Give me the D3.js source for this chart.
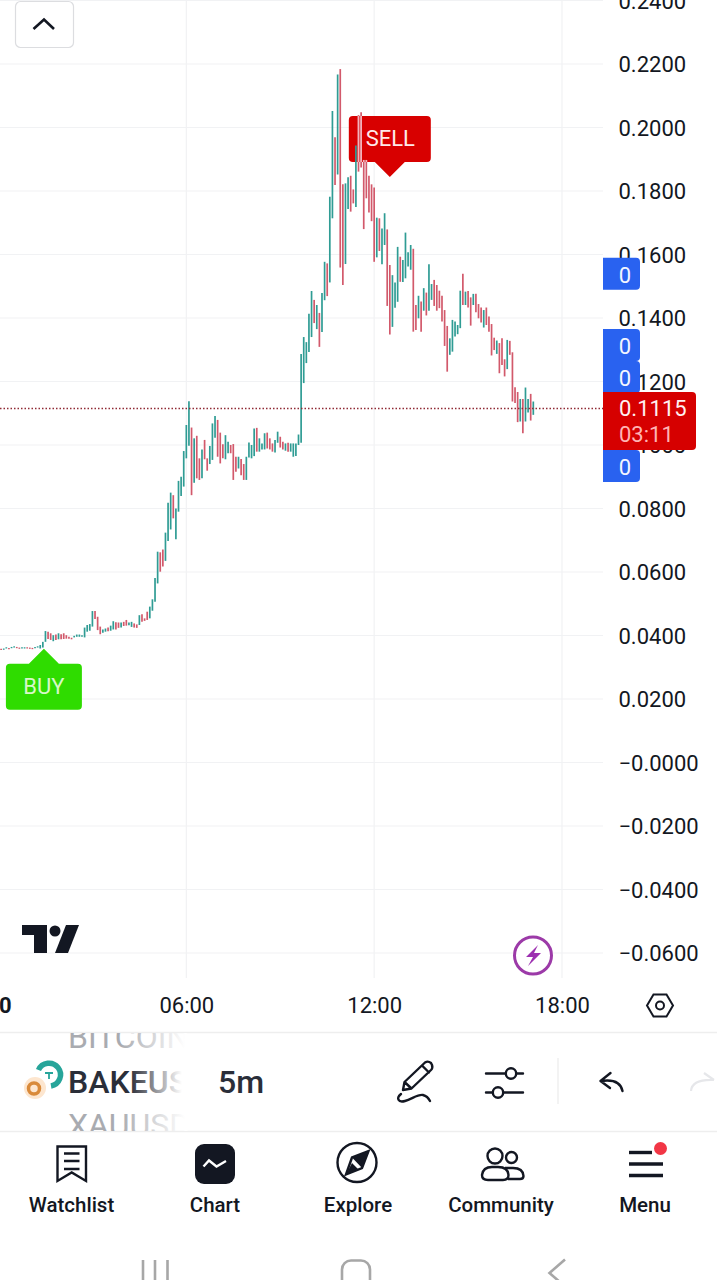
<!DOCTYPE html>
<html>
<head>
<meta charset="utf-8">
<script src="https://cdn.jsdelivr.net/npm/d3@7"></script>
<style>
  html, body { margin: 0; padding: 0; background: #fff; }
  svg { display: block; font-family: Roboto, sans-serif; }
</style>
</head>
<body>
<div id="chart"></div>
<script>
// 5 minute bars, one every barMinutes starting at 00:00
const barMinutes = 5;
const highs = [
  .0358,.0358,.0359,.0363,.0361,.0364,.0366,.0364,.0362,.0363,.0363,.0363,.0362,.0361,.0364,.0366,
  .0370,.0380,.0414,.0412,.0407,.0401,.0403,.0407,.0404,.0407,.0401,.0396,.0393,.0399,.0403,.0403,.0401,
  .0425,.0433,.0436,.0477,.0477,.0459,.0428,.0419,.0422,.0425,.0431,.0445,.0442,.0441,.0441,.0443,.0449,
  .0441,.0443,.0438,.0435,.0464,.0467,.0454,.0475,.0491,.0514,
  .0581,.0664,.0662,.0671,.0724,.0818,.0850,.0842,.0800,.0887,.0900,.0981,.1063,.1138,
  .1055,.1021,.1029,.0958,.0986,.1016,.0958,.0997,.1068,.1091,.1079,.1039,.1002,.1031,.1010,.1000,
  .1003,.0963,.0963,.0956,.0940,.0963,.1008,.1000,.1052,.1054,.1021,.1005,.1037,.1039,.1021,.1005,
  .1016,.1042,.1026,.1010,.1005,.1007,.1005,.1005,.1005,.1033,.1287,
  .1340,.1324,.1413,.1485,.1457,.1441,.1416,.1479,
  .1577,.1572,.1782,.2052,.1969,.2167,.2184,.1821,.1824,.1843,.1848,.1805,.1943,.2039,.2048,
  .1898,.1898,.1848,.1821,.1811,.1716,.1714,.1682,.1730,.1679,.1567,.1535,.1512,.1624,.1593,
  .1583,.1669,.1607,.1630,.1618,.1441,.1470,.1452,.1494,.1480,.1569,.1507,.1520,.1504,.1486,.1470,
  .1425,.1375,.1336,.1394,.1389,.1378,.1486,.1539,.1483,.1485,.1465,.1476,.1476,.1444,.1433,.1425,
  .1433,.1405,.1381,.1338,.1329,.1321,.1336,.1270,.1331,.1328,.1292,.1182,.1167,.1145,.1145,.1181,
  .1145,.1161,.1137
];
const lows = [
  .0354,.0354,.0355,.0359,.0357,.0360,.0362,.0360,.0358,.0359,.0359,.0359,.0358,.0357,.0360,.0362,
  .0359,.0362,.0380,.0389,.0386,.0382,.0386,.0388,.0388,.0389,.0390,.0390,.0388,.0394,.0396,.0396,.0396,
  .0394,.0412,.0415,.0428,.0452,.0417,.0404,.0409,.0412,.0413,.0415,.0419,.0419,.0424,.0425,.0430,.0431,
  .0432,.0427,.0425,.0424,.0433,.0443,.0446,.0449,.0454,.0478,
  .0506,.0564,.0601,.0617,.0635,.0698,.0734,.0769,.0703,.0790,.0839,.0869,.0958,.0998,
  .0842,.0881,.0895,.0890,.0895,.0955,.0919,.0940,.0953,.1023,.0963,.0942,.0958,.0955,.0974,.0974,
  .0890,.0916,.0926,.0905,.0890,.0890,.0961,.0958,.0965,.0979,.0979,.0986,.0986,.0989,.0986,.0979,
  .0976,.1007,.0992,.0986,.0982,.0979,.0979,.0963,.0965,.1000,.1007,
  .1195,.1258,.1293,.1340,.1384,.1365,.1309,.1356,
  .1456,.1469,.1512,.1714,.1819,.1852,.1559,.1504,.1570,.1743,.1735,.1761,.1750,.1861,.1874,
  .1680,.1777,.1732,.1705,.1577,.1591,.1611,.1569,.1630,.1438,.1348,.1372,.1432,.1451,.1514,
  .1513,.1525,.1562,.1552,.1357,.1362,.1399,.1357,.1423,.1408,.1423,.1457,.1438,.1423,.1431,.1389,
  .1312,.1231,.1284,.1294,.1342,.1349,.1368,.1441,.1441,.1433,.1376,.1441,.1418,.1399,.1386,.1370,
  .1378,.1357,.1282,.1299,.1287,.1226,.1252,.1216,.1239,.1284,.1137,.1132,.1072,.1074,.1037,.1074,
  .1102,.1077,.1095
];
// U = close above open, D = close below open
const directions = (
  "UDUUDUUDDUUDDDUU" +
  "UUUDDUDUDDDDDUUUU" +
  "UUUUDDDUUDUUDDUDD" +
  "UUDDUDDDUU" +
  "UUDDUUUDUUUUUU" +
  "DUDDUDDUUUDDDUUD" +
  "DDUDDUUUUDUUUDDD" +
  "UUDDUDUUUUU" +
  "UUUUDUDU" +
  "UDUUDUDDUUDDUDD" +
  "DDDDDUDUUDDUUUD" +
  "UUUUDDUDUDUUDDDD" +
  "DDUUUUUDUDDUDDDU" +
  "DDDDUDDDUDDDDUDU" +
  "UDU"
).split("");

const yTickValues = [0.24, 0.22, 0.20, 0.18, 0.16, 0.14, 0.12, 0.10, 0.08, 0.06, 0.04, 0.02, 0, -0.02, -0.04, -0.06];
const yTickLabels = ["0.2400", "0.2200", "0.2000", "0.1800", "0.1600", "0.1400", "0.1200", "0.1000", "0.0800", "0.0600", "0.0400", "0.0200", "\u22120.0000", "\u22120.0200", "\u22120.0400", "\u22120.0600"];
const xTickValues = [0, 360, 720, 1080];
const xTickLabels = ["0", "06:00", "12:00", "18:00"];
const lastPrice = 0.1115;
const countdown = "03:11";
const buySignalMinute = 87;
const buySignalPrice = 0.0358;
const sellSignalMinute = 750;
const sellSignalPrice = 0.1844;
const alertTagPrices = [0.1539, 0.1315, 0.1214, 0.0934];
const navItems = ["Watchlist", "Chart", "Explore", "Community", "Menu"];
const navCenters = [71.5, 215, 358, 501, 645];

const W = 717, H = 1280;
const paneW = 603, paneH = 978;
const upColor = "#2f9c94", downColor = "#d2596b", gridColor = "#f1f2f4", ink = "#131722";

const x = d3.scaleLinear().domain([0, 1080]).range([-1.5, 562]);
const y = d3.scaleLinear().domain([-0.06, 0.22]).range([953, 64]);

const svg = d3.select("#chart").append("svg").attr("width", W).attr("height", H);

const sx = x(sellSignalMinute), sy = y(sellSignalPrice);
const bx = x(buySignalMinute), by = y(buySignalPrice);

const defs = svg.append("defs");
defs.append("clipPath").attr("id", "pane")
  .append("rect").attr("width", paneW).attr("height", paneH);
defs.append("clipPath").attr("id", "symbolRow")
  .append("rect").attr("x", 0).attr("y", 1033).attr("width", W).attr("height", 98);
defs.append("clipPath").attr("id", "sellBox")
  .append("rect").attr("x", sx - 41).attr("y", sy - 61).attr("width", 82).attr("height", 46);
const fade = defs.append("linearGradient").attr("id", "fadeMain")
  .attr("gradientUnits", "userSpaceOnUse").attr("x1", 130).attr("x2", 182).attr("y1", 0).attr("y2", 0);
fade.append("stop").attr("offset", 0).attr("stop-color", "#2a2e39");
fade.append("stop").attr("offset", 1).attr("stop-color", "#ffffff");
const fadeGrey = defs.append("linearGradient").attr("id", "fadeGrey")
  .attr("gradientUnits", "userSpaceOnUse").attr("x1", 120).attr("x2", 185).attr("y1", 0).attr("y2", 0);
fadeGrey.append("stop").attr("offset", 0).attr("stop-color", "#a9abb0");
fadeGrey.append("stop").attr("offset", 1).attr("stop-color", "#ffffff");

const pane = svg.append("g").attr("clip-path", "url(#pane)");

// grid
pane.selectAll(".hgrid").data(yTickValues).enter().append("line")
  .attr("x1", 0).attr("x2", paneW)
  .attr("y1", d => y(d)).attr("y2", d => y(d))
  .attr("stroke", gridColor).attr("stroke-width", 1.2);
pane.selectAll(".vgrid").data(xTickValues.slice(1)).enter().append("line")
  .attr("x1", d => x(d)).attr("x2", d => x(d))
  .attr("y1", 0).attr("y2", paneH)
  .attr("stroke", gridColor).attr("stroke-width", 1.2);

// sell marker sits under the bars
pane.append("path")
  .attr("d", `M${sx - 37},${sy - 61} H${sx + 37} a4,4 0 0 1 4,4 V${sy - 19} a4,4 0 0 1 -4,4 H${sx + 15} L${sx},${sy} L${sx - 15},${sy - 15} H${sx - 37} a4,4 0 0 1 -4,-4 V${sy - 57} a4,4 0 0 1 4,-4 Z`)
  .attr("fill", "#d80000");

pane.append("path")
  .attr("d", `M${bx},${by} L${bx + 15},${by + 15} H${bx + 34} a4,4 0 0 1 4,4 V${by + 57} a4,4 0 0 1 -4,4 H${bx - 34} a4,4 0 0 1 -4,-4 V${by + 19} a4,4 0 0 1 4,-4 H${bx - 15} Z`)
  .attr("fill", "#2fdc00");
pane.append("text").attr("x", bx).attr("y", by + 45).attr("text-anchor", "middle")
  .attr("font-size", 22).attr("fill", "#d8f8c8").text("BUY");

// bars
const barIndex = d3.range(highs.length);
pane.selectAll(".bar").data(barIndex).enter().append("line")
  .attr("class", "bar")
  .attr("x1", i => x(i * barMinutes))
  .attr("x2", i => x(i * barMinutes))
  .attr("y1", i => y(highs[i]))
  .attr("y2", i => y(lows[i]))
  .attr("stroke", i => directions[i] === "U" ? upColor : downColor)
  .attr("stroke-width", 1.7);

// down bars read pale where they cross the red sell box
pane.append("g").attr("clip-path", "url(#sellBox)")
  .selectAll("line").data(barIndex.filter(i => directions[i] === "D")).enter().append("line")
  .attr("x1", i => x(i * barMinutes))
  .attr("x2", i => x(i * barMinutes))
  .attr("y1", i => y(highs[i]))
  .attr("y2", i => y(lows[i]))
  .attr("stroke", "#f4b4bc").attr("stroke-width", 1.7);

pane.append("text").attr("x", sx + 0.5).attr("y", sy - 31).attr("text-anchor", "middle")
  .attr("font-size", 22).attr("fill", "#ffe9e9").text("SELL");

// last price line
pane.append("line")
  .attr("x1", 0).attr("x2", paneW)
  .attr("y1", y(lastPrice)).attr("y2", y(lastPrice))
  .attr("stroke", "#8f2a35").attr("stroke-width", 1.4).attr("stroke-dasharray", "1.5 2");

// tradingview logo
const logo = svg.append("g").attr("fill", "#131722");
logo.append("path").attr("d", "M22,925 H47 V953 H34 V935 H22 Z");
logo.append("circle").attr("cx", 55).attr("cy", 931).attr("r", 5.5);
logo.append("path").attr("d", "M66,925 H79 L68,953 H55 Z");

// lightning badge
svg.append("circle").attr("cx", 533).attr("cy", 955.5).attr("r", 18.5)
  .attr("fill", "#fff").attr("stroke", "#9c3aa8").attr("stroke-width", 3);
svg.append("path").attr("d", "M538,945 L526,957 H533 L528,966 L541,953 H534 Z").attr("fill", "#9c2fb0");

// axes
const yAxis = d3.axisRight(y).tickValues(yTickValues)
  .tickFormat((d, i) => yTickLabels[i]).tickSize(0).tickPadding(0);
const gy = svg.append("g").attr("transform", "translate(618.5,0.5)").call(yAxis);
gy.select(".domain").remove();
gy.selectAll("text").attr("font-size", 22).attr("fill", ink).attr("font-family", "Roboto, sans-serif");

const xAxis = d3.axisBottom(x).tickValues(xTickValues)
  .tickFormat((d, i) => xTickLabels[i]).tickSize(0).tickPadding(0);
const gx = svg.append("g").attr("transform", "translate(0,997)").call(xAxis);
gx.select(".domain").remove();
gx.selectAll("text").attr("font-size", 22).attr("fill", ink).attr("font-family", "Roboto, sans-serif")
  .attr("font-weight", (d, i) => i === 0 ? 700 : 400)
  .attr("text-anchor", (d, i) => i === 0 ? "start" : "middle");

// alert tags on the price scale
const tags = svg.append("g");
tags.selectAll("path").data(alertTagPrices).enter().append("path")
  .attr("d", d => { const c = y(d); return `M603,${c - 16} H636 a4,4 0 0 1 4,4 V${c + 12} a4,4 0 0 1 -4,4 H603 Z`; })
  .attr("fill", "#2962f0");
tags.selectAll("text").data(alertTagPrices).enter().append("text")
  .attr("x", 625).attr("y", d => y(d) + 9).attr("text-anchor", "middle")
  .attr("font-size", 22).attr("fill", "#f2f5ff").text("0");

// last price box
const py = y(lastPrice);
svg.append("path")
  .attr("d", `M603,${py - 16.5} H692 a4,4 0 0 1 4,4 V${py + 37.5} a4,4 0 0 1 -4,4 H603 Z`)
  .attr("fill", "#d60000");
svg.append("text").attr("x", 619).attr("y", py + 8).attr("font-size", 22).attr("fill", "#fff0f0").text(d3.format(".4f")(lastPrice));
svg.append("text").attr("x", 619).attr("y", py + 34).attr("font-size", 22).attr("fill", "#ffb4b4").text(countdown);

// collapse button
svg.append("rect").attr("x", 15.5).attr("y", 1.5).attr("width", 58).attr("height", 46).attr("rx", 5)
  .attr("fill", "#fff").attr("stroke", "#dcdde0").attr("stroke-width", 1.2);
svg.append("path").attr("d", "M33.5,29 L44,19.5 L54,29").attr("fill", "none").attr("stroke", "#131722").attr("stroke-width", 2.6);

// settings hexagon
svg.append("path").attr("d", "M647,1005.5 L653.5,994.5 H666.5 L673,1005.5 L666.5,1016.5 H653.5 Z")
  .attr("fill", "none").attr("stroke", "#131722").attr("stroke-width", 2);
svg.append("circle").attr("cx", 660).attr("cy", 1005.5).attr("r", 4)
  .attr("fill", "none").attr("stroke", "#131722").attr("stroke-width", 2);

// toolbar
svg.selectAll(".divider").data([1032.5, 1131.5]).enter().append("line")
  .attr("x1", 0).attr("x2", W).attr("y1", d => d).attr("y2", d => d)
  .attr("stroke", "#eeeeee").attr("stroke-width", 1.5);

const row = svg.append("g").attr("clip-path", "url(#symbolRow)");
row.append("text").attr("x", 68).attr("y", 1048).attr("font-size", 32).attr("fill", "url(#fadeGrey)").text("BITCOIN");
row.append("text").attr("x", 68).attr("y", 1136).attr("font-size", 32).attr("fill", "url(#fadeGrey)").text("XAUUSD");
row.append("text").attr("x", 68).attr("y", 1093).attr("font-size", 32).attr("font-weight", 500).attr("fill", "url(#fadeMain)").text("BAKEUSDT");
svg.append("rect").attr("x", 187).attr("y", 1034).attr("width", 25).attr("height", 96).attr("fill", "#fff");
svg.append("text").attr("x", 218).attr("y", 1093).attr("font-size", 32).attr("font-weight", 500).attr("fill", "#2a2e39").text("5m");

// symbol icon
svg.append("path").attr("d", "M38.5,1070 A11.5,11.5 0 1 1 51,1086").attr("fill", "none").attr("stroke", "#27a59a").attr("stroke-width", 5.5);
svg.append("path").attr("d", "M45,1073 H53 M49,1073 V1079").attr("fill", "none").attr("stroke", "#27a59a").attr("stroke-width", 1.8);
svg.append("circle").attr("cx", 35).attr("cy", 1088).attr("r", 11).attr("fill", "#fde6cf");
svg.append("circle").attr("cx", 34).attr("cy", 1088.5).attr("r", 5.5).attr("fill", "none").attr("stroke", "#d98a3a").attr("stroke-width", 3.5);

// toolbar icons
const line = svg.append("g").attr("fill", "none").attr("stroke", "#131722").attr("stroke-width", 2.4).attr("stroke-linecap", "round").attr("stroke-linejoin", "round");
line.append("path").attr("d", "M403,1090 L404.5,1082 L425,1062.5 Q428,1060.5 431,1063 L432,1065 Q433,1068 431,1070 L411.5,1088.5 Z M404.5,1082 L411.5,1088.5 M422,1065.5 L429,1072.5");
line.append("path").attr("d", "M401,1094 C396,1098 398,1103 405,1101 C412,1099 418,1094 423,1095 C427,1096 429,1099 430,1101");
line.append("path").attr("d", "M486,1073.5 H505.5 M516.5,1073.5 H523 M486,1092.5 H492.5 M503.5,1092.5 H523");
line.append("circle").attr("cx", 511).attr("cy", 1073.5).attr("r", 5.2);
line.append("circle").attr("cx", 498).attr("cy", 1092.5).attr("r", 5.2);
line.append("path").attr("d", "M610.5,1073 L600.5,1081 L610,1088 M600.5,1081 Q620,1078 622.5,1091");
svg.append("path").attr("d", "M691,1091 Q692,1079 714,1080 M704,1073 L714,1080").attr("fill", "none").attr("stroke", "#e6e7ea").attr("stroke-width", 2.2);
svg.append("line").attr("x1", 558).attr("x2", 558).attr("y1", 1058).attr("y2", 1104).attr("stroke", "#eeeeee").attr("stroke-width", 1.4);

// bottom navigation
svg.selectAll(".navlabel").data(navItems).enter().append("text")
  .attr("x", (d, i) => navCenters[i]).attr("y", 1212)
  .attr("text-anchor", "middle").attr("font-size", 20.5).attr("font-weight", 500).attr("fill", "#131722").text(d => d);

const nav = svg.append("g").attr("fill", "none").attr("stroke", "#131722").attr("stroke-width", 2.4);
nav.append("path").attr("d", "M57.5,1146.5 H86 V1181 L71.7,1172.5 L57.5,1181 Z M64,1153.5 H79.5 M64,1161 H79.5 M64,1169 H79.5");
svg.append("rect").attr("x", 195).attr("y", 1144).attr("width", 40).attr("height", 40).attr("rx", 9).attr("fill", "#131722");
svg.append("path").attr("d", "M203.5,1166.5 L209,1160.5 L216.5,1166.5 L226,1161").attr("fill", "none").attr("stroke", "#fff").attr("stroke-width", 2.4);
nav.append("circle").attr("cx", 357).attr("cy", 1162.5).attr("r", 19.5);
nav.append("path").attr("d", "M368.5,1151 L362,1168 L346,1174.5 L352,1157.5 Z");
svg.append("path").attr("d", "M368.5,1151 L362,1168 L352,1157.5 Z M346,1174.5 L352,1163 L358,1169 Z").attr("fill", "#131722");
nav.append("circle").attr("cx", 495).attr("cy", 1156).attr("r", 7.5);
nav.append("circle").attr("cx", 511.5).attr("cy", 1157.5).attr("r", 5.5);
nav.append("path").attr("d", "M488,1180 Q482,1180 482,1175 Q483,1167 492,1167 H498 Q508,1167 508.5,1175 Q508.5,1180 503,1180 Z");
nav.append("path").attr("d", "M505,1168 H513 Q523,1168 523.5,1176 Q523.5,1179 520,1179 H508");
const menu = svg.append("g").attr("stroke", "#131722").attr("stroke-width", 3.4);
menu.selectAll("line").data([[629, 652, 1152.5], [629, 663, 1164], [629, 663, 1175.5]]).enter().append("line")
  .attr("x1", d => d[0]).attr("x2", d => d[1]).attr("y1", d => d[2]).attr("y2", d => d[2]);
svg.append("circle").attr("cx", 660.5).attr("cy", 1148.5).attr("r", 6.5).attr("fill", "#f23645");

// android navigation bar
const sys = svg.append("g").attr("fill", "none").attr("stroke", "#a7a7a7").attr("stroke-width", 2.6);
sys.selectAll("line").data([143, 155, 167.5]).enter().append("line")
  .attr("x1", d => d).attr("x2", d => d).attr("y1", 1260).attr("y2", 1282);
sys.append("rect").attr("x", 342).attr("y", 1260.5).attr("width", 28).attr("height", 30).attr("rx", 9);
sys.append("path").attr("d", "M565,1259.5 L549.5,1273 L565,1286.5");
</script>
</body>
</html>
